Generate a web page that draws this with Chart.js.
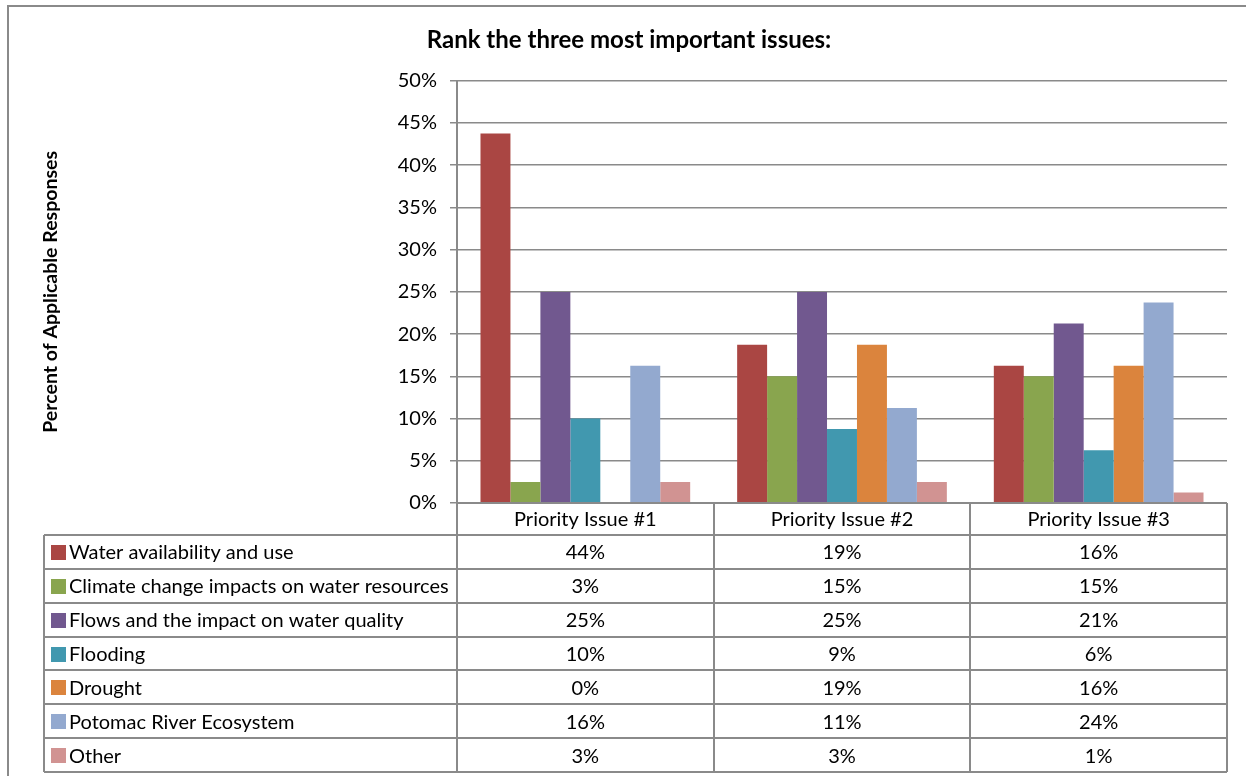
<!DOCTYPE html>
<html>
<head>
<meta charset="utf-8">
<script src="https://cdn.jsdelivr.net/npm/chart.js@4/dist/chart.umd.min.js"></script>
<style>
  body { margin: 0; background: #fff; }
  canvas { display: block; }
</style>
</head>
<body>
<canvas id="rank_chart" width="1246" height="776"></canvas>
<script>
  // data
  const categories = ["Priority Issue #1", "Priority Issue #2", "Priority Issue #3"];
  const seriesNames = [
    "Water availability and use",
    "Climate change impacts on water resources",
    "Flows and the impact on water quality",
    "Flooding",
    "Drought",
    "Potomac River Ecosystem",
    "Other",
  ];
  const waterAvailability = [43.75, 18.75, 16.25];
  const climateChange = [2.5, 15, 15];
  const flowsQuality = [25, 25, 21.25];
  const flooding = [10, 8.75, 6.25];
  const drought = [0, 18.75, 16.25];
  const potomacEcosystem = [16.25, 11.25, 23.75];
  const other = [2.5, 2.5, 1.25];
  const yTicks = [0, 5, 10, 15, 20, 25, 30, 35, 40, 45, 50];

  const seriesValues = [waterAvailability, climateChange, flowsQuality, flooding, drought, potomacEcosystem, other];
  const seriesColors = ["#AA4643", "#89A54E", "#71588F", "#4198AF", "#DB843D", "#93A9CF", "#D19392"];

  const fontFamily = "Lato, 'Open Sans', sans-serif";
  const lineColor = "#8a8a8a";

  // outer frame
  const framePlugin = {
    id: "frame",
    beforeDraw(chart) {
      const ctx = chart.ctx;
      ctx.save();
      ctx.strokeStyle = lineColor;
      ctx.lineWidth = 2;
      ctx.strokeRect(8, 6, 1300, 800);
      ctx.restore();
    },
  };

  // data table under the plot
  const tablePlugin = {
    id: "dataTable",
    afterDraw(chart) {
      const ctx = chart.ctx;
      const area = chart.chartArea;
      const xScale = chart.scales.x;
      const tableLeft = 44;
      const headTop = area.bottom;
      const headBottom = 535;
      const rowH = 33.86;
      const tableBottom = headBottom + rowH * seriesNames.length;
      const colW = (area.right - area.left) / categories.length;

      ctx.save();
      ctx.strokeStyle = lineColor;
      ctx.lineWidth = 2;

      // horizontal lines
      ctx.beginPath();
      ctx.moveTo(area.left, headTop);
      ctx.lineTo(area.right, headTop);
      for (let i = 0; i <= seriesNames.length; i++) {
        const y = Math.round(headBottom + rowH * i);
        ctx.moveTo(tableLeft, y);
        ctx.lineTo(area.right, y);
      }
      // vertical lines
      ctx.moveTo(tableLeft, headBottom);
      ctx.lineTo(tableLeft, tableBottom);
      for (let c = 0; c <= categories.length; c++) {
        const x = Math.round(area.left + colW * c);
        ctx.moveTo(x, headTop);
        ctx.lineTo(x, tableBottom);
      }
      ctx.stroke();

      ctx.fillStyle = "#000";
      ctx.font = "20px " + fontFamily;
      ctx.textBaseline = "middle";

      // header
      ctx.textAlign = "center";
      categories.forEach(function (cat, i) {
        ctx.fillText(cat, xScale.getPixelForValue(i), (headTop + headBottom) / 2 + 1);
      });

      // rows
      seriesNames.forEach(function (name, r) {
        const yMid = headBottom + rowH * r + rowH / 2 + 1;
        ctx.fillStyle = seriesColors[r];
        ctx.fillRect(51, Math.round(yMid - 8), 15, 15);
        ctx.fillStyle = "#000";
        ctx.textAlign = "left";
        ctx.fillText(name, 69, yMid);
        ctx.textAlign = "center";
        seriesValues[r].forEach(function (v, i) {
          ctx.fillText(Math.round(v) + "%", xScale.getPixelForValue(i), yMid);
        });
      });
      ctx.restore();
    },
  };

  const rankChart = new Chart(document.getElementById("rank_chart"), {
    type: "bar",
    data: {
      labels: categories,
      datasets: seriesNames.map(function (name, i) {
        return {
          label: name,
          data: seriesValues[i],
          backgroundColor: seriesColors[i],
          borderWidth: 0,
          categoryPercentage: 0.817,
          barPercentage: 1,
        };
      }),
    },
    options: {
      responsive: false,
      animation: false,
      layout: {
        padding: { top: 26, left: 31, right: 19, bottom: 273 },
      },
      plugins: {
        legend: { display: false },
        tooltip: { enabled: false },
        title: {
          display: true,
          text: "Rank the three most important issues:",
          color: "#000",
          font: { family: fontFamily, size: 24, weight: "bold" },
          padding: { top: 0, bottom: 26 },
        },
      },
      scales: {
        x: {
          display: false,
        },
        y: {
          min: 0,
          max: 50,
          afterFit: function (scale) {
            scale.width = 426;
          },
          afterBuildTicks: function (scale) {
            scale.ticks = yTicks.map(function (v) {
              return { value: v };
            });
          },
          border: { color: lineColor, width: 2 },
          grid: {
            color: lineColor,
            lineWidth: 1.5,
            tickLength: 7,
          },
          ticks: {
            color: "#000",
            padding: 13,
            font: { family: fontFamily, size: 20 },
            callback: function (value) {
              return value + "%";
            },
          },
          title: {
            display: true,
            text: "Percent of Applicable Responses",
            color: "#000",
            font: { family: fontFamily, size: 19.5, weight: "bold" },
            padding: { top: 8, bottom: 0 },
          },
        },
      },
    },
    plugins: [framePlugin, tablePlugin],
  });
</script>
</body>
</html>
